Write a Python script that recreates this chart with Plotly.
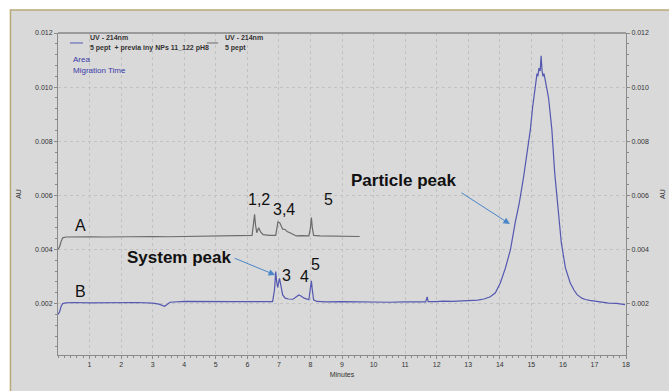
import plotly.graph_objects as go

# ---- data ----
a_minutes = [0.0, 0.05, 0.1, 0.15, 0.25, 0.5, 1.0, 1.5, 2.0, 2.5, 3.0, 3.5, 4.0, 4.5, 5.0, 5.5, 6.0,
             6.15, 6.2, 6.23, 6.26, 6.3, 6.36, 6.42, 6.5, 6.7, 6.9, 6.94, 6.97, 7.03, 7.08, 7.12,
             7.2, 7.26, 7.35, 7.42, 7.55, 7.7, 7.95, 8.0, 8.03, 8.06, 8.1, 8.3, 8.7, 9.0, 9.3, 9.56]
a_au = [0.0040, 0.0041, 0.0043, 0.00443, 0.00446, 0.00447, 0.00447, 0.00446, 0.00447, 0.00447,
        0.00448, 0.00447, 0.00448, 0.00448, 0.0045, 0.0045, 0.0045,
        0.00452, 0.0050, 0.0053, 0.0049, 0.00462, 0.0048, 0.00465, 0.00455, 0.00452, 0.00452,
        0.0048, 0.00502, 0.00498, 0.00488, 0.00475, 0.00474, 0.00466, 0.00462, 0.00457, 0.0045,
        0.00451, 0.0045, 0.0048, 0.00518, 0.0048, 0.00452, 0.0045, 0.00449, 0.00448, 0.00449, 0.00448]

b_minutes = [0.0, 0.05, 0.1, 0.15, 0.25, 0.5, 1.0, 1.5, 2.0, 2.5, 3.0, 3.2, 3.38, 3.45, 3.55, 4.0,
             4.5, 5.0, 5.5, 6.0, 6.5, 6.8, 6.86, 6.9, 6.93, 6.96, 7.02, 7.07, 7.12, 7.2, 7.3,
             7.45, 7.55, 7.63, 7.7, 7.8, 7.95, 8.0, 8.03, 8.06, 8.1, 8.2, 8.5, 9.0, 9.5, 10.0,
             10.5, 11.0, 11.5, 11.65, 11.7, 11.73, 12.0, 12.2, 12.5, 12.8, 13.0, 13.3, 13.5, 13.7,
             13.86, 14.02, 14.18, 14.34, 14.49, 14.62, 14.76, 14.86, 14.97, 15.04, 15.13, 15.18,
             15.21, 15.24, 15.28, 15.31, 15.34, 15.37, 15.4, 15.44, 15.5, 15.55, 15.65, 15.74,
             15.84, 15.95, 16.08, 16.23, 16.35, 16.45, 16.6, 16.71, 16.85, 17.03, 17.2, 17.45,
             17.7, 17.97]
b_au = [0.0016, 0.0017, 0.0019, 0.0020, 0.00203, 0.00204, 0.00203, 0.00204, 0.00203, 0.00204,
        0.00202, 0.00198, 0.0019, 0.00195, 0.00205, 0.00208, 0.00207, 0.00208, 0.00207, 0.00207,
        0.00206, 0.00207, 0.0025, 0.00318, 0.0028, 0.0026, 0.00293, 0.0026, 0.00232, 0.0022,
        0.00217, 0.00216, 0.00225, 0.00232, 0.00228, 0.0022, 0.00214, 0.0025, 0.00284, 0.0025,
        0.00214, 0.00208, 0.00206, 0.00207, 0.00206, 0.00206, 0.00205, 0.00206, 0.00206,
        0.00206, 0.00225, 0.00207, 0.00207, 0.00209, 0.00208, 0.00209, 0.0021, 0.00213,
        0.00217, 0.00225, 0.0024, 0.00277, 0.00332, 0.0040, 0.0050, 0.00573, 0.00672, 0.00758,
        0.00844, 0.00925, 0.01017, 0.0105, 0.0104, 0.0107, 0.0106, 0.01116, 0.0106, 0.0104,
        0.0105, 0.0103, 0.0099, 0.00956, 0.00844, 0.00684, 0.00548, 0.00425, 0.00332, 0.00277,
        0.0025, 0.00233, 0.0022, 0.00215, 0.00212, 0.00209, 0.00207, 0.00202, 0.00201, 0.00196]

x_ticks = list(range(1, 19))
y_ticks = [0.002, 0.004, 0.006, 0.008, 0.010, 0.012]
y_tick_text = ["0.002", "0.004", "0.006", "0.008", "0.010", "0.012"]

# ---- figure ----
NARROW = "Liberation Sans Narrow, Arial Narrow, Arial, sans-serif"
SANS = "Liberation Sans, Arial, Helvetica, sans-serif"

fig = go.Figure()
fig.add_trace(go.Scatter(x=a_minutes, y=a_au, mode="lines",
                         line=dict(color="#6b6b6b", width=1.2), showlegend=False))
fig.add_trace(go.Scatter(x=b_minutes, y=b_au, mode="lines",
                         line=dict(color="#5458b0", width=1.2), showlegend=False))
# dummy trace to carry the right-hand axis
fig.add_trace(go.Scatter(x=[None], y=[None], yaxis="y2", showlegend=False))

tickfont = dict(family=NARROW, size=7, color="#333333")
axis_line = "#8a8a8a"
grid_col = "#c2c2c2"

fig.update_layout(
    width=669, height=391,
    margin=dict(l=58, r=43, t=33, b=36, autoexpand=False),
    paper_bgcolor="white",
    plot_bgcolor="rgba(0,0,0,0)",
    xaxis=dict(range=[0, 18], tickvals=x_ticks, ticktext=[str(v) for v in x_ticks],
               tickfont=tickfont, ticks="outside", ticklen=3, tickcolor=axis_line,
               showline=True, linecolor=axis_line, linewidth=1, mirror=False,
               showgrid=True, gridcolor=grid_col, griddash="dot", gridwidth=1,
               zeroline=False, automargin=False,
               minor=dict(ticks="outside", ticklen=2, dtick=0.2, tickcolor=axis_line, showgrid=False),
               title=dict(text="Minutes", font=dict(family=NARROW, size=7, color="#333333"), standoff=4)),
    yaxis=dict(range=[0.0001, 0.012], tickvals=y_ticks, ticktext=y_tick_text,
               tickfont=tickfont, ticks="outside", ticklen=3, tickcolor=axis_line,
               showline=True, linecolor=axis_line, linewidth=1,
               showgrid=True, gridcolor=grid_col, griddash="dot", gridwidth=1,
               zeroline=False, automargin=False,
               minor=dict(ticks="outside", ticklen=2, dtick=0.0004, tickcolor=axis_line, showgrid=False),
               title=dict(text="AU", font=dict(family=NARROW, size=7, color="#333333"), standoff=12)),
    yaxis2=dict(range=[0.0001, 0.012], tickvals=y_ticks, ticktext=y_tick_text, overlaying="y",
                side="right", tickfont=tickfont, ticks="outside", ticklen=3, tickcolor=axis_line,
                showline=True, linecolor=axis_line, linewidth=1, showgrid=False, zeroline=False,
                automargin=False,
                minor=dict(ticks="outside", ticklen=2, dtick=0.0004, tickcolor=axis_line),
                title=dict(text="AU", font=dict(family=NARROW, size=7, color="#333333"), standoff=12)),
)

# outer gray panel with tan border (top and left edges visible)
fig.add_shape(type="rect", xref="paper", yref="paper", x0=-0.0837, x1=1.3, y0=-0.3, y1=1.0714,
              fillcolor="#d9d9d9", line=dict(color="#b9a878", width=1.5), layer="below")
# thick top border of plot area
fig.add_shape(type="line", xref="paper", yref="paper", x0=0, x1=1, y0=1, y1=1,
              line=dict(color="#9a9a9a", width=2))

# legend block
fig.add_shape(type="line", xref="paper", yref="paper", x0=0.021, x1=0.044, y0=0.969, y1=0.969,
              line=dict(color="#5458b0", width=1))
fig.add_shape(type="line", xref="paper", yref="paper", x0=0.262, x1=0.282, y0=0.969, y1=0.969,
              line=dict(color="#6b6b6b", width=1))
leg_font = dict(family=NARROW, size=7, color="#333333")
blue_font = dict(family=NARROW, size=8, color="#3a3aa8")
for txt, x, y, f in [("<b>UV - 214nm</b>", 0.0528, 0.9845, leg_font),
                     ("<b>5 pept  + previa iny NPs 11_122 pH8</b>", 0.0528, 0.9534, leg_font),
                     ("Area", 0.0229, 0.919, blue_font),
                     ("Migration Time", 0.0229, 0.885, blue_font),
                     ("<b>UV - 214nm</b>", 0.2905, 0.9845, leg_font),
                     ("<b>5 pept</b>", 0.2905, 0.9534, leg_font)]:
    fig.add_annotation(text=txt, x=x, y=y, xref="paper", yref="paper", xanchor="left",
                       yanchor="middle", showarrow=False, font=f)

# peak labels (data coordinates)
lab_font = dict(family=SANS, size=16, color="#111111")
for txt, x, y in [("1,2", 6.37, 0.00586), ("3,4", 7.17, 0.00546), ("5", 8.56, 0.00586),
                  ("A", 0.71, 0.00487), ("B", 0.71, 0.00244),
                  ("3", 7.25, 0.00303), ("4", 7.81, 0.00299), ("5", 8.17, 0.00343)]:
    fig.add_annotation(text=txt, x=x, y=y, showarrow=False, font=lab_font)

bold_font = dict(family=SANS, size=17, color="#111111")
fig.add_annotation(text="<b>System peak</b>", x=3.84, y=0.0037, showarrow=False, font=bold_font)
fig.add_annotation(text="<b>Particle peak</b>", x=10.96, y=0.00654, showarrow=False, font=bold_font)

arrow_col = "#4a86c8"
fig.add_annotation(text="", x=6.88, y=0.00306, ax=5.55, ay=0.0037, axref="x", ayref="y",
                   showarrow=True, arrowhead=2, arrowsize=1.3, arrowwidth=1, arrowcolor=arrow_col)
fig.add_annotation(text="", x=14.32, y=0.00494, ax=12.74, ay=0.00613, axref="x", ayref="y",
                   showarrow=True, arrowhead=2, arrowsize=1.3, arrowwidth=1, arrowcolor=arrow_col)

fig.write_html("out.html")
